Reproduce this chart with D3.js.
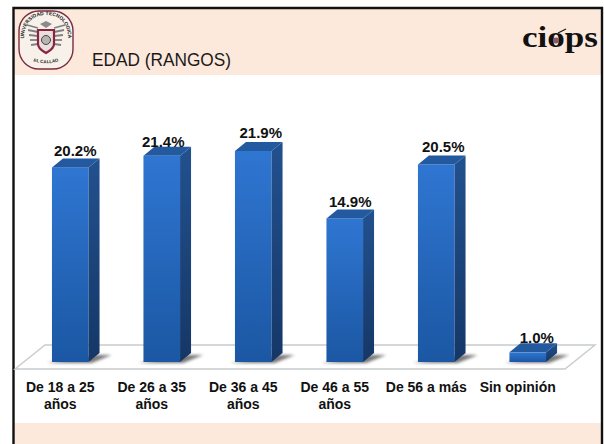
<!DOCTYPE html>
<html>
<head>
<meta charset="utf-8">
<title>EDAD (RANGOS)</title>
<script src="https://cdn.jsdelivr.net/npm/d3@7"></script>
<style>
	html, body { margin: 0; padding: 0; background: #fff; }
	svg { display: block; font-family: "Liberation Sans", Arial, sans-serif; }
</style>
</head>
<body>
<div id="chart"></div>
<script>
var categories = [["De 18 a 25", "años"], ["De 26 a 35", "años"], ["De 36 a 45", "años"], ["De 46 a 55", "años"], ["De 56 a más"], ["Sin opinión"]];
var values = [20.2, 21.4, 21.9, 14.9, 20.5, 1.0];
var titleText = "EDAD (RANGOS)";

var width = 604, height = 444;
var baseY = 362;
var depthX = 11, depthY = 9;
// label tweaks, the original labels do not sit at a constant place
var labelGap = [11, 9, 13, 11, 12, 9];
var labelShift = [5, 1.5, 7.5, 5.5, 7, 9];

var svg = d3.select("#chart").append("svg")
	.attr("width", width).attr("height", height);

var defs = svg.append("defs");

function grad(id, c1, c2){
	var g = defs.append("linearGradient").attr("id", id)
		.attr("x1", 0).attr("y1", 0).attr("x2", 0).attr("y2", 1);
	g.append("stop").attr("offset", "0%").attr("stop-color", c1);
	g.append("stop").attr("offset", "100%").attr("stop-color", c2);
}
grad("frontFill", "#2f76d2", "#1b57a3");
grad("sideFill", "#22518f", "#153767");
defs.append("filter").attr("id", "soft")
	.attr("x", "-30%").attr("y", "-100%").attr("width", "160%").attr("height", "300%")
	.append("feGaussianBlur").attr("stdDeviation", 1.8);

// page panels
svg.append("rect").attr("x", 14).attr("y", 9).attr("width", 588).attr("height", 66).attr("fill", "#fce9dc");
svg.append("rect").attr("x", 14).attr("y", 423).attr("width", 588).attr("height", 21).attr("fill", "#fce9dc");

var frame = svg.append("g").attr("fill", "none").attr("stroke", "#111").attr("stroke-width", 2.4);
frame.append("path").attr("d", "M13.5,444V8H602V444");

svg.append("text").attr("x", 92).attr("y", 66)
	.attr("font-size", 19).attr("fill", "#1a1a1a")
	.attr("textLength", 139).attr("lengthAdjust", "spacingAndGlyphs")
	.text(titleText);

// seal at the top left
var seal = svg.append("g");
seal.append("rect").attr("x", 19).attr("y", 11).attr("width", 54).attr("height", 58).attr("rx", 20)
	.attr("fill", "#f8f1ea").attr("stroke", "#7b2b43").attr("stroke-width", 1.4);
defs.append("path").attr("id", "sealTop").attr("d", "M24,38 C24,22 34,15 46,15 C58,15 68,22 68,38");
defs.append("path").attr("id", "sealBottom").attr("d", "M28,58 C36,65 56,65 64,58");
seal.append("text").attr("font-size", 5).attr("font-weight", "bold").attr("fill", "#222")
	.append("textPath").attr("href", "#sealTop").attr("startOffset", "50%").attr("text-anchor", "middle")
	.text("UNIVERSIDAD TECNOLOGICA");
seal.append("text").attr("font-size", 4.5).attr("font-weight", "bold").attr("fill", "#222")
	.append("textPath").attr("href", "#sealBottom").attr("startOffset", "50%").attr("text-anchor", "middle")
	.text("EL CALLAO");
[-1, 1].forEach(function(s){
	var wing = seal.append("g").attr("stroke", "#808080").attr("stroke-width", 1.8).attr("fill", "none");
	d3.range(5).forEach(function(i){
		wing.append("path").attr("d", "M" + (46 + s * 8) + "," + (28 + i * 4) + "L" + (46 + s * (19 - i)) + "," + (25 + i * 5));
	});
});
seal.append("path").attr("d", "M38,30H54V44C54,49 49,51 46,53C43,51 38,49 38,44Z")
	.attr("fill", "#e9dfdc").attr("stroke", "#8a2440").attr("stroke-width", 2.2);
seal.append("circle").attr("cx", 46).attr("cy", 40).attr("r", 4.5)
	.attr("fill", "#b9b4b2").attr("stroke", "#444").attr("stroke-width", 1);
seal.append("path").attr("d", "M40,24L46,21L52,24L46,28Z").attr("fill", "#8b8b8b");

// ciops logo at the top right
var logo = svg.append("g");
logo.append("text").attr("x", 522).attr("y", 47)
	.style("font-family", "'Liberation Serif', serif")
	.attr("font-weight", "bold").attr("font-size", 29)
	.attr("textLength", 76).attr("lengthAdjust", "spacingAndGlyphs")
	.attr("fill", "#111")
	.text("ciops");
logo.append("circle").attr("cx", 556).attr("cy", 40.5).attr("r", 3).attr("fill", "#8a5a66");
logo.append("path").attr("d", "M558,33L566,29").attr("stroke", "#111").attr("stroke-width", 1.2);

// floor of the 3d chart
svg.append("path").attr("d", "M15,369L45,345H595L565,369Z")
	.attr("fill", "#fff").attr("stroke", "#c8cccc").attr("stroke-width", 1.4);

var x = d3.scaleBand()
	.domain(d3.range(categories.length))
	.range([24.5, 573.5])
	.paddingInner(0.6)
	.paddingOuter(0.3);

var y = d3.scaleLinear()
	.domain([0, 21.9])
	.range([baseY, 151]);

var chartGroup = svg.append("g").attr("class", "chartGroup");

var bars = chartGroup.selectAll("g.bar")
	.data(values)
	.enter().append("g").attr("class", "bar");

// shadow falling on the floor
bars.append("path")
	.attr("d", function(d, i){
		var x0 = x(i), x1 = x(i) + x.bandwidth();
		return "M" + (x0 - 5) + "," + (baseY + 1) + "L" + (x1 + 3) + "," + (baseY + 1)
			+ "L" + (x1 + depthX + 12) + "," + (baseY - depthY + 2) + "L" + (x1 + depthX - 2) + "," + (baseY - depthY + 2) + "Z";
	})
	.attr("fill", "#555").attr("opacity", 0.8).attr("filter", "url(#soft)");

bars.append("rect")
	.attr("x", function(d, i){ return x(i); })
	.attr("y", function(d){ return y(d); })
	.attr("width", x.bandwidth())
	.attr("height", function(d){ return baseY - y(d); })
	.attr("fill", "url(#frontFill)");

bars.append("path")
	.attr("d", function(d, i){
		var x1 = x(i) + x.bandwidth();
		return "M" + x1 + "," + y(d) + "l" + depthX + "," + (-depthY) + "V" + (baseY - depthY) + "l" + (-depthX) + "," + depthY + "Z";
	})
	.attr("fill", "url(#sideFill)");

bars.append("path")
	.attr("d", function(d, i){
		var x0 = x(i), x1 = x0 + x.bandwidth();
		return "M" + x0 + "," + y(d) + "l" + depthX + "," + (-depthY) + "H" + (x1 + depthX) + "l" + (-depthX) + "," + depthY + "Z";
	})
	.attr("fill", "#22599f");

// value labels
chartGroup.selectAll("text.value")
	.data(values)
	.enter().append("text").attr("class", "value")
	.attr("x", function(d, i){ return x(i) + x.bandwidth() / 2 + labelShift[i]; })
	.attr("y", function(d, i){ return y(d) - labelGap[i]; })
	.attr("text-anchor", "middle")
	.attr("font-size", 15).attr("font-weight", "bold").attr("fill", "#111")
	.text(function(d){ return d.toFixed(1) + "%"; });

// category labels, they sit a bit to the left of the bars
var cats = chartGroup.selectAll("text.cat")
	.data(categories)
	.enter().append("text").attr("class", "cat")
	.attr("text-anchor", "middle")
	.attr("font-size", 14).attr("font-weight", "bold").attr("fill", "#111");

cats.selectAll("tspan")
	.data(function(d, i){ return d.map(function(t){ return {t: t, i: i}; }); })
	.enter().append("tspan")
	.attr("x", function(d){ return x(d.i) + x.bandwidth() / 2 - 10; })
	.attr("y", function(d, j){ return 392 + j * 17; })
	.text(function(d){ return d.t; });
</script>
</body>
</html>
